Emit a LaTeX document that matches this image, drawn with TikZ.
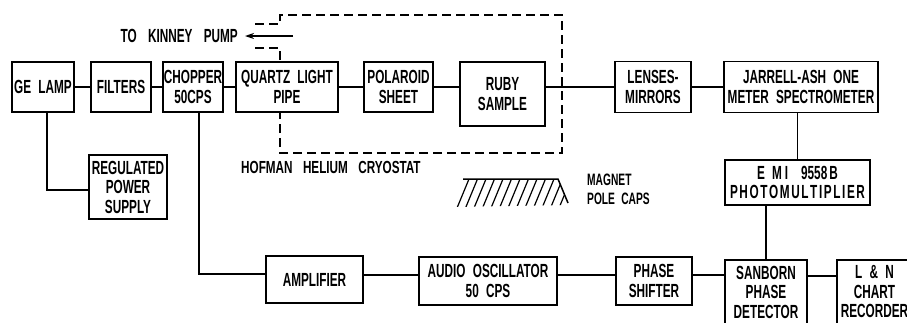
\documentclass[tikz,border=0pt]{standalone}
\usepackage{fontspec}
\usepackage{graphicx}
\setmainfont{Liberation Sans}[FakeStretch=0.62,WordSpace=2.2]
\usetikzlibrary{arrows.meta}
\newcommand{\lk}{\kern1.6pt}
\begin{document}
\begin{tikzpicture}[x=1pt,y=-1pt,
  box/.style={draw,line width=1.9pt,inner sep=0pt,align=center,
    font=\bfseries\fontsize{19}{19.5}\selectfont},
  wire/.style={line width=1.9pt},
  dashline/.style={line width=1.5pt,dash pattern=on 9pt off 5pt},
  lbl/.style={inner sep=0pt,font=\bfseries\fontsize{16.5}{19}\selectfont,align=left}]
\useasboundingbox (0,0) rectangle (907,322);
\clip (0,0) rectangle (907,322);
% top row
\node[box,minimum width=62pt,minimum height=50pt] (ge) at (43,87) {GE LAMP};
\node[box,minimum width=60pt,minimum height=50pt] (filt) at (121,87) {FILTERS};
\node[box,minimum width=60pt,minimum height=50pt] (chop) at (193,87) {CHOPPER\\50CPS};
\node[box,minimum width=102pt,minimum height=50pt] (quartz) at (287,87) {QUARTZ LIGHT\\PIPE};
\node[box,minimum width=69pt,minimum height=50pt] (pol) at (398.5,87) {POLAROID\\SHEET};
\node[box,minimum width=85pt,minimum height=64pt] (ruby) at (502.5,94) {RUBY\\SAMPLE};
\node[box,minimum width=76pt,minimum height=51pt] (lens) at (653,87) {LENSES-\\MIRRORS};
\node[box,minimum width=154pt,minimum height=51pt] (spec) at (801,87) {JARRELL-ASH ONE\\METER SPECTROMETER};
\node[box,minimum width=78pt,minimum height=64pt] (reg) at (128,187) {REGULATED\\POWER\\SUPPLY};
\node[box,minimum width=145pt,minimum height=45pt] (emi) at (797.5,182.5) {E\kern7pt M\kern3pt I\kern13pt 9558\kern2pt B\\P\lk H\lk O\lk T\lk O\lk M\lk U\lk L\lk T\lk I\lk P\lk L\lk I\lk E\lk R};
% bottom row
\node[box,minimum width=97pt,minimum height=47pt] (amp) at (314.5,279.5) {AMPLIFIER};
\node[box,minimum width=138pt,minimum height=48pt] (osc) at (488,281) {AUDIO OSCILLATOR\\50 CPS};
\node[box,minimum width=76pt,minimum height=48pt] (ps) at (654,281) {PHASE\\SHIFTER};
\node[box,minimum width=82pt,minimum height=64pt] (sanb) at (766,292) {SANBORN\\PHASE\\DETECTOR};
\node[box,minimum width=75pt,minimum height=64pt] (lnr) at (874.5,292) {L \& N\\CHART\\RECORDER};
% labels
\node[lbl,anchor=east,font=\bfseries\fontsize{19}{19}\selectfont] (kinney) at (238,36) {TO\hspace{4pt} KINNEY\hspace{4pt} PUMP};
\node[lbl,anchor=west,font=\bfseries\fontsize{17.5}{19}\selectfont] (hofman) at (241,167) {\scalebox{1.08}[1]{HOFMAN\hspace{3pt} HELIUM\hspace{3pt} CRYOSTAT}};
\node[lbl,anchor=west] (magnet) at (587,189.5) {MAGNET\\POLE CAPS};
% connectors
\draw[wire] (ge) -- (filt);
\draw[wire] (filt) -- (chop);
\draw[wire] (chop) -- (quartz);
\draw[wire] (quartz) -- (pol);
\draw[wire] (pol.east) -- (pol.east -| ruby.west);
\draw[wire] (ruby.east |- lens.west) -- (lens.west);
\draw[wire] (lens) -- (spec);
\draw[wire] (emi.north) -- (emi.north |- spec.south);
\draw[wire] (sanb.north) -- (sanb.north |- emi.south);
\draw[wire] ([yshift=16pt]sanb.east) -- ([yshift=16pt]lnr.west);
\draw[wire] ([yshift=6pt]ps.east) -- ([yshift=17pt]sanb.west);
\draw[wire] ([yshift=6pt]osc.east) -- ([yshift=6pt]ps.west);
\draw[wire] ([yshift=4.5pt]amp.east) -- ([yshift=6pt]osc.west);
\draw[wire] ([xshift=6pt]chop.south) |- ([yshift=5.5pt]amp.west);
\draw[wire] ([xshift=4pt]ge.south) |- ([yshift=-3pt]reg.west);
% cryostat
\coordinate (pumpend) at (293,36);
\draw[dashline] (255,24) -- (280,24) -- (280,15) -- (562,15) -- (562,153) -- (280,153) -- (280,113);
\draw[dashline] (255,48) -- (280,48) -- (280,62);
\draw[line width=1.4pt,-{Stealth[length=9pt,width=6pt]}] (pumpend) -- ([xshift=7pt]kinney.east);
% magnet pole caps
\begin{scope}
\clip (452,207) -- (463,179) -- (558,179) -- (569,205) -- cycle;
\foreach \i in {0,...,14} {
  \draw[line width=1.2pt] ({440+8.5*\i},208) -- ({452+8.5*\i},179);
}
\end{scope}
\draw[line width=1.5pt] (463,179) -- (558,179) -- (568,203);
\end{tikzpicture}
\end{document}
